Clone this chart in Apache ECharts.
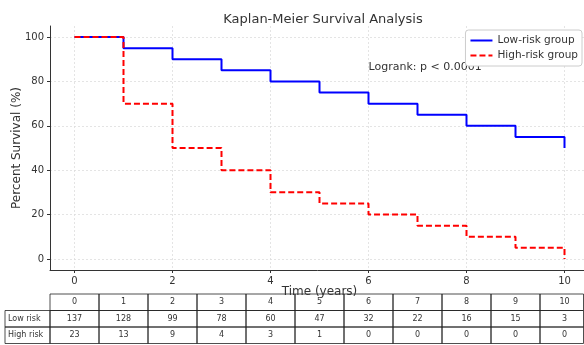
<!DOCTYPE html>
<html>
<head>
<meta charset="utf-8">
<script src="https://cdn.jsdelivr.net/npm/echarts@6/dist/echarts.min.js"></script>
<style>
  html, body { margin: 0; padding: 0; background: #fff; }
  #chart { width: 584px; height: 345px; }
</style>
</head>
<body>
<div id="chart"></div>
<script>
// survival data (step curves)
var times = [0, 1, 2, 3, 4, 5, 6, 7, 8, 9, 10];
var lowRisk = [100, 95, 90, 85, 80, 75, 70, 65, 60, 55, 50];
var highRisk = [100, 70, 50, 40, 30, 25, 20, 15, 10, 5, 0];
// number at risk table
var tableTimes = ['0', '1', '2', '3', '4', '5', '6', '7', '8', '9', '10'];
var lowAtRisk = [137, 128, 99, 78, 60, 47, 32, 22, 16, 15, 3];
var highAtRisk = [23, 13, 9, 4, 3, 1, 0, 0, 0, 0, 0];
var xTicks = [0, 2, 4, 6, 8, 10];
var yTicks = [0, 20, 40, 60, 80, 100];

var FONT = 'DejaVu Sans';
var chart = echarts.init(document.getElementById('chart'));

function pairs(vals) {
  return times.map(function (t, i) { return [t, vals[i]]; });
}

var option = {
  animation: false,
  textStyle: { fontFamily: FONT },
  title: {
    text: 'Kaplan-Meier Survival Analysis',
    left: 318, top: 8, textAlign: 'center',
    textStyle: { fontFamily: FONT, fontSize: 13, fontWeight: 'normal', color: '#333' }
  },
  legend: {
    right: 2, top: 30,
    orient: 'vertical',
    itemWidth: 22, itemHeight: 10, itemGap: 4,
    backgroundColor: '#fff',
    borderColor: '#ccc', borderWidth: 1, borderRadius: 3,
    padding: [5, 4],
    itemStyle: { opacity: 0 },
    textStyle: { fontFamily: FONT, fontSize: 10.5, color: '#333' },
    data: ['Low-risk group', 'High-risk group']
  },
  grid: { left: 50, top: 26, width: 539, bottom: 75, containLabel: false, outerBoundsMode: 'none' },
  xAxis: {
    type: 'value', min: -0.5, max: 10.5,
    name: 'Time (years)', nameLocation: 'middle', nameGap: 16, nameMoveOverlap: false,
    nameTextStyle: { fontFamily: FONT, fontSize: 12, color: '#333' },
    axisLine: { onZero: false, lineStyle: { color: '#333', width: 1 } },
    axisTick: { show: true, customValues: xTicks, length: 3, lineStyle: { color: '#333' } },
    axisLabel: { customValues: xTicks, fontFamily: FONT, fontSize: 10, color: '#333', margin: 6 },
    splitLine: { show: true, lineStyle: { color: '#ddd', type: [2, 2], width: 0.8 } }
  },
  yAxis: {
    type: 'value', min: -5, max: 105,
    name: 'Percent Survival (%)', nameLocation: 'middle', nameGap: 27, nameMoveOverlap: false,
    nameTextStyle: { fontFamily: FONT, fontSize: 12, color: '#333' },
    axisLine: { show: true, onZero: false, lineStyle: { color: '#333', width: 1 } },
    axisTick: { show: true, customValues: yTicks, length: 3, lineStyle: { color: '#333' } },
    axisLabel: { customValues: yTicks, fontFamily: FONT, fontSize: 10, color: '#333', margin: 6 },
    splitLine: { show: true, lineStyle: { color: '#ddd', type: [2, 2], width: 0.8 } }
  },
  series: [
    {
      name: 'Low-risk group', type: 'line', step: 'end',
      symbol: 'none', data: pairs(lowRisk),
      lineStyle: { color: '#0000ff', width: 2 },
      itemStyle: { color: '#0000ff' }
    },
    {
      name: 'High-risk group', type: 'line', step: 'end',
      symbol: 'none', data: pairs(highRisk),
      lineStyle: { color: '#ff0000', width: 2, type: [6, 3] },
      itemStyle: { color: '#ff0000' }
    }
  ]
};
chart.setOption(option);

// annotation and at-risk table, placed with the x axis scale
function px(x) { return chart.convertToPixel({ xAxisIndex: 0 }, x); }
function py(y) { return chart.convertToPixel({ yAxisIndex: 0 }, y); }

var els = [];
els.push({
  type: 'text', x: px(6), y: py(86.5),
  style: { text: 'Logrank: p < 0.0001', fontFamily: FONT, fontSize: 11, fill: '#333', verticalAlign: 'middle' }
});

var rowTops = [294, 310.5, 327];
var rowH = 16.5;
var tableLeft = 5;
var lineStyle = { stroke: '#222', lineWidth: 0.8, fill: null };
var rows = [
  { label: '', cells: tableTimes },
  { label: 'Low risk', cells: lowAtRisk },
  { label: 'High risk', cells: highAtRisk }
];
rows.forEach(function (row, r) {
  var top = rowTops[r];
  if (r > 0) {
    els.push({ type: 'rect', shape: { x: tableLeft, y: top, width: px(-0.5) - tableLeft, height: rowH }, style: lineStyle, silent: true });
    els.push({ type: 'text', x: tableLeft + 3, y: top + rowH / 2,
      style: { text: row.label, fontFamily: FONT, fontSize: 8, fill: '#333', verticalAlign: 'middle' } });
  }
  row.cells.forEach(function (v, i) {
    var x0 = px(i - 0.5), x1 = Math.min(px(i + 0.5), 583.5);
    els.push({ type: 'rect', shape: { x: x0, y: top, width: x1 - x0, height: rowH }, style: lineStyle, silent: true });
    els.push({ type: 'text', x: (px(i - 0.5) + px(i + 0.5)) / 2, y: top + rowH / 2,
      style: { text: String(v), fontFamily: FONT, fontSize: 8, fill: '#333', align: 'center', verticalAlign: 'middle' } });
  });
});
chart.setOption({ graphic: { elements: els } });
</script>
</body>
</html>
